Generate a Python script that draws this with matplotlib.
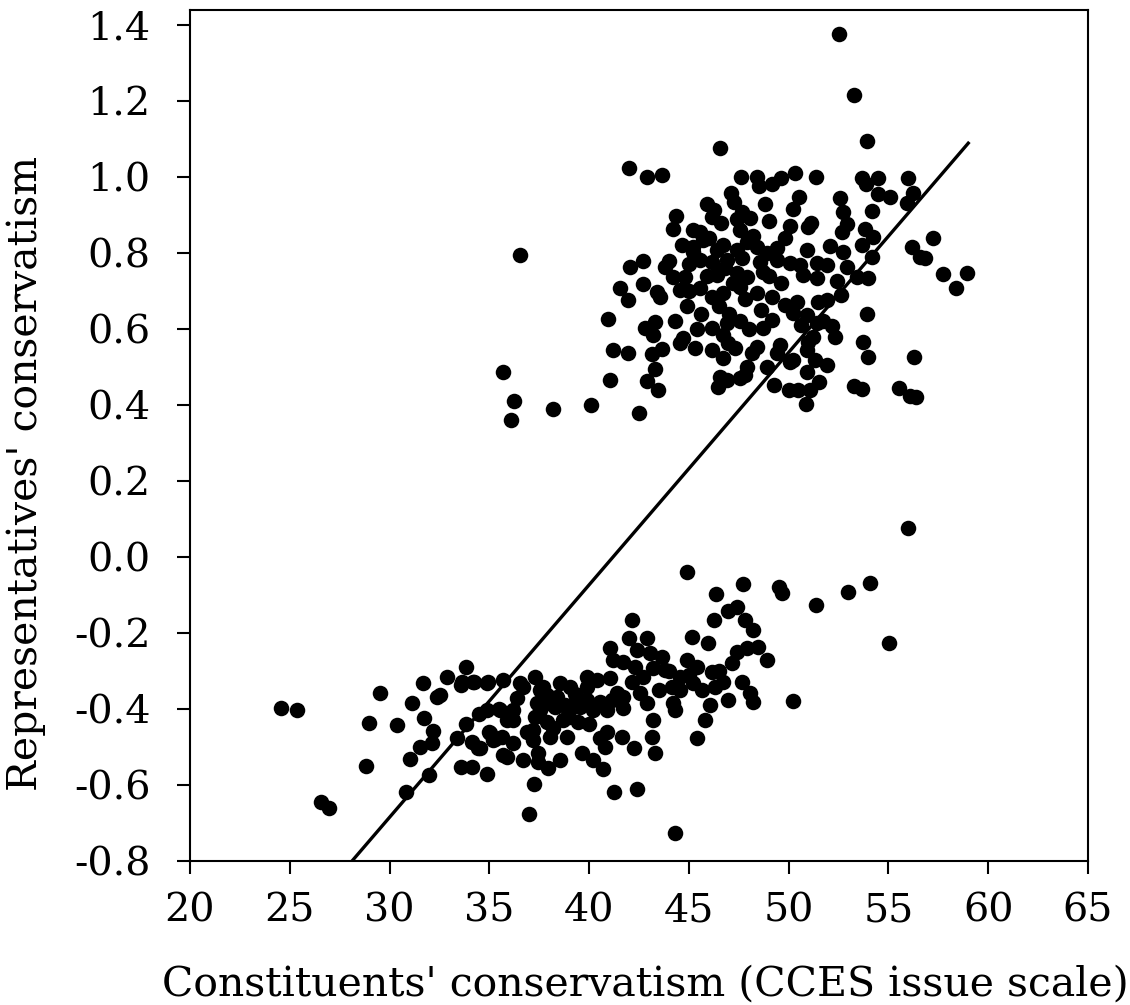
import numpy as np
import matplotlib
matplotlib.use("Agg")
import matplotlib.pyplot as plt

# Republican-held districts (upper cloud)
rep_x = [52.53, 53.28, 53.93, 46.57, 42.0, 42.9, 43.66, 47.62, 48.42, 48.52, 49.17, 49.62, 50.33, 51.38,
         53.68, 53.88, 54.49, 55.99, 47.12, 54.49, 55.09, 56.24, 50.53, 52.58, 55.94, 47.27, 50.23, 52.73,
         54.19, 46.27, 47.67, 44.36, 46.17, 48.07, 49.02, 46.62, 51.13, 52.93, 44.21, 45.21, 45.56, 47.57,
         48.22, 50.08, 53.83, 50.98, 52.68, 49.82, 54.24, 57.24, 44.66, 45.21, 45.71, 46.72, 47.92, 48.42,
         49.42, 52.08, 53.68, 56.19, 45.21, 46.42, 47.42, 48.92, 50.93, 52.73, 54.19, 56.59, 56.84, 45.56,
         46.17, 46.92, 47.67, 48.57, 49.42, 50.08, 50.58, 51.43, 51.93, 52.93, 42.05, 42.71, 43.81, 57.74,
         58.95, 58.4, 44.21, 44.81, 46.42, 47.42, 47.92, 48.72, 50.73, 51.43, 53.43, 53.98, 52.43, 41.55,
         41.95, 42.71, 43.41, 43.56, 44.56, 45.56, 46.17, 46.72, 47.57, 48.42, 49.17, 49.82, 50.43, 50.93,
         51.48, 51.93, 51.43, 52.18, 53.93, 40.95, 42.81, 43.31, 44.31, 43.21, 46.17, 46.92, 47.57, 46.72,
         48.72, 49.17, 50.23, 51.23, 44.56, 44.71, 46.97, 48.42, 49.57, 50.98, 53.73, 41.2, 41.95, 43.16,
         43.66, 46.17, 46.72, 48.17, 49.42, 50.23, 50.93, 51.33, 53.98, 56.29, 51.93, 43.31, 47.92, 48.92,
         50.08, 50.93, 41.05, 42.91, 43.46, 46.57, 46.92, 47.57, 46.47, 49.27, 50.48, 51.08, 50.88, 53.28,
         53.68, 55.54, 56.09, 56.39, 40.1, 42.51, 35.69, 36.24, 36.09, 38.2, 36.54,
         46.0, 46.8, 47.2, 45.9, 46.5, 47.0, 45.0, 44.9, 45.6, 47.8, 48.6, 49.6, 48.0, 45.4, 47.3,
         44.0, 45.0, 49.0, 50.6, 51.7, 52.6, 45.9, 47.4, 48.8, 45.3, 47.8, 52.3, 50.0, 51.5]
rep_y = [1.376, 1.216, 1.095, 1.076, 1.024, 1.0, 1.005, 1.0, 1.0, 0.976, 0.982, 0.997, 1.011, 1.0,
         0.997, 0.982, 0.997, 0.997, 0.958, 0.955, 0.947, 0.958, 0.947, 0.945, 0.932, 0.934, 0.916, 0.908,
         0.911, 0.913, 0.908, 0.897, 0.895, 0.892, 0.884, 0.879, 0.879, 0.876, 0.863, 0.861, 0.855, 0.861,
         0.845, 0.871, 0.863, 0.868, 0.855, 0.839, 0.842, 0.839, 0.821, 0.816, 0.834, 0.821, 0.829, 0.816,
         0.813, 0.818, 0.821, 0.816, 0.803, 0.808, 0.808, 0.8, 0.808, 0.803, 0.789, 0.789, 0.787, 0.782,
         0.776, 0.782, 0.787, 0.776, 0.782, 0.774, 0.768, 0.774, 0.768, 0.763, 0.763, 0.779, 0.763, 0.745,
         0.747, 0.708, 0.737, 0.737, 0.742, 0.747, 0.737, 0.75, 0.742, 0.734, 0.737, 0.734, 0.726, 0.708,
         0.676, 0.718, 0.697, 0.684, 0.703, 0.708, 0.684, 0.695, 0.711, 0.695, 0.684, 0.663, 0.671, 0.637,
         0.671, 0.676, 0.616, 0.608, 0.639, 0.626, 0.603, 0.618, 0.621, 0.584, 0.603, 0.616, 0.621, 0.584,
         0.603, 0.624, 0.642, 0.579, 0.563, 0.576, 0.563, 0.553, 0.558, 0.566, 0.566, 0.545, 0.537, 0.534,
         0.547, 0.545, 0.524, 0.537, 0.537, 0.518, 0.545, 0.518, 0.526, 0.526, 0.505, 0.495, 0.5, 0.5,
         0.513, 0.487, 0.466, 0.463, 0.439, 0.474, 0.466, 0.471, 0.447, 0.453, 0.439, 0.439, 0.403, 0.45,
         0.442, 0.445, 0.424, 0.421, 0.4, 0.379, 0.487, 0.411, 0.361, 0.39, 0.795,
         0.84, 0.76, 0.72, 0.74, 0.66, 0.64, 0.70, 0.66, 0.64, 0.68, 0.65, 0.72, 0.60, 0.60, 0.55,
         0.78, 0.77, 0.74, 0.61, 0.62, 0.69, 0.93, 0.89, 0.93, 0.55, 0.48, 0.58, 0.44, 0.46]

# Democratic-held districts (lower cloud)
dem_x = [56.0, 54.08, 52.98, 51.38, 55.04, 49.5, 49.67, 50.2, 44.91, 47.72, 46.37, 42.16, 46.27, 46.97,
         47.42, 47.82, 48.22, 45.16, 42.0, 42.91, 45.96, 41.05, 42.41, 43.06, 43.66, 47.42, 47.92, 48.47,
         48.92, 47.17, 44.91, 45.41, 41.2, 41.7, 42.31, 43.21, 43.81, 46.17, 44.56, 47.67, 46.72, 48.07,
         48.22, 46.97, 46.32, 45.66, 45.21, 44.56, 44.16, 44.21, 44.31, 46.07, 45.81, 42.16, 42.71, 42.56,
         42.91, 43.21, 43.16, 43.31, 42.26, 45.41, 44.31, 41.25, 42.41, 36.99, 37.24, 34.89, 40.7, 40.2,
         39.65, 38.55, 37.94, 37.44, 36.69, 35.89, 34.54, 35.19, 35.04, 35.64, 36.19, 37.19, 37.19, 38.05,
         37.44, 38.9, 40.55, 40.9, 40.8, 41.65, 39.45, 38.7, 37.89, 37.29, 36.19, 35.54, 34.89, 36.19,
         37.54, 38.3, 38.95, 39.55, 40.2, 40.9, 41.7, 41.15, 40.55, 39.9, 39.4, 38.8, 37.89, 37.39, 38.4,
         37.89, 37.54, 37.7, 36.69, 36.54, 37.29, 38.55, 39.05, 39.9, 40.4, 39.9, 41.4, 41.7, 35.69, 34.89,
         35.89, 24.56, 25.36, 26.57, 26.97, 29.52, 28.97, 28.82, 30.38, 30.83, 31.03, 31.13, 31.68, 31.73,
         32.18, 32.13, 31.53, 31.98, 32.38, 32.53, 32.88, 33.83, 33.58, 34.24, 33.83, 34.49, 33.38, 34.14,
         34.44, 33.58, 34.14, 35.0, 35.3, 35.5, 35.7,
         41.05, 33.63, 34.18, 34.94, 39.0, 38.2, 40.0, 36.9, 44.0, 45.0, 46.5, 43.5, 39.3, 36.4]
dem_y = [0.076, -0.068, -0.092, -0.126, -0.226, -0.079, -0.095, -0.38, -0.039, -0.071, -0.097, -0.166,
         -0.166, -0.142, -0.132, -0.166, -0.192, -0.211, -0.213, -0.213, -0.226, -0.24, -0.245, -0.253,
         -0.263, -0.25, -0.24, -0.237, -0.271, -0.279, -0.271, -0.29, -0.271, -0.276, -0.29, -0.292, -0.297,
         -0.303, -0.316, -0.329, -0.329, -0.358, -0.382, -0.376, -0.342, -0.35, -0.332, -0.35, -0.342,
         -0.384, -0.403, -0.389, -0.429, -0.329, -0.316, -0.358, -0.384, -0.429, -0.474, -0.516, -0.503,
         -0.476, -0.726, -0.618, -0.611, -0.676, -0.597, -0.571, -0.558, -0.534, -0.516, -0.534, -0.555,
         -0.539, -0.534, -0.526, -0.503, -0.482, -0.463, -0.474, -0.489, -0.482, -0.455, -0.474, -0.516,
         -0.474, -0.476, -0.461, -0.5, -0.474, -0.434, -0.429, -0.434, -0.421, -0.429, -0.403, -0.403,
         -0.403, -0.403, -0.395, -0.403, -0.395, -0.403, -0.403, -0.397, -0.376, -0.382, -0.376, -0.384,
         -0.389, -0.384, -0.384, -0.368, -0.363, -0.35, -0.342, -0.342, -0.332, -0.316, -0.332, -0.342,
         -0.342, -0.324, -0.316, -0.358, -0.368, -0.324, -0.332, -0.429, -0.397, -0.403, -0.645, -0.661,
         -0.358, -0.437, -0.55, -0.442, -0.618, -0.532, -0.384, -0.332, -0.424, -0.458, -0.489, -0.5,
         -0.574, -0.368, -0.363, -0.316, -0.29, -0.337, -0.329, -0.439, -0.413, -0.476, -0.487, -0.503,
         -0.553, -0.553, -0.46, -0.48, -0.40, -0.52,
         -0.318, -0.33, -0.33, -0.33, -0.42, -0.45, -0.44, -0.46, -0.30, -0.31, -0.30, -0.35, -0.36, -0.37]

# fitted line end points
fit_x = [28.12, 59.0]
fit_y = [-0.8, 1.089]

xticks = [20, 25, 30, 35, 40, 45, 50, 55, 60, 65]
yticks = [-0.8, -0.6, -0.4, -0.2, 0.0, 0.2, 0.4, 0.6, 0.8, 1.0, 1.2, 1.4]

plt.rcParams['font.family'] = ['DejaVu Serif']

fig = plt.figure(figsize=(11.3, 10.05), dpi=100)
ax = fig.add_axes([190 / 1130, 1 - 861 / 1005, (1088 - 190) / 1130, (861 - 10) / 1005])

ax.scatter(rep_x, rep_y, s=125, color='black', linewidths=0, zorder=3)
ax.scatter(dem_x, dem_y, s=125, color='black', linewidths=0, zorder=3)
ax.plot(fit_x, fit_y, color='black', lw=2.4, zorder=2)

ax.set_xlim(20, 65)
ax.set_ylim(-0.8, 1.4395)
ax.set_xticks(xticks)
ax.set_yticks(yticks)
ax.set_yticklabels(["%.1f" % v for v in yticks])
for sp in ax.spines.values():
    sp.set_linewidth(1.5)
ax.tick_params(axis='x', direction='out', length=9, width=1.5, labelsize=28.5, pad=14)
ax.tick_params(axis='y', direction='out', length=9.5, width=1.5, labelsize=28.5, pad=19)

ax.set_xlabel("Constituents' conservatism (CCES issue scale)", fontsize=29.5)
ax.xaxis.set_label_coords(0.507, -0.122)
ax.xaxis.label.set_va('top')
ax.set_ylabel("Representatives' conservatism", fontsize=29.5)
ax.yaxis.set_label_coords(-0.160, 0.456)

fig.savefig("out.png", dpi=100)
